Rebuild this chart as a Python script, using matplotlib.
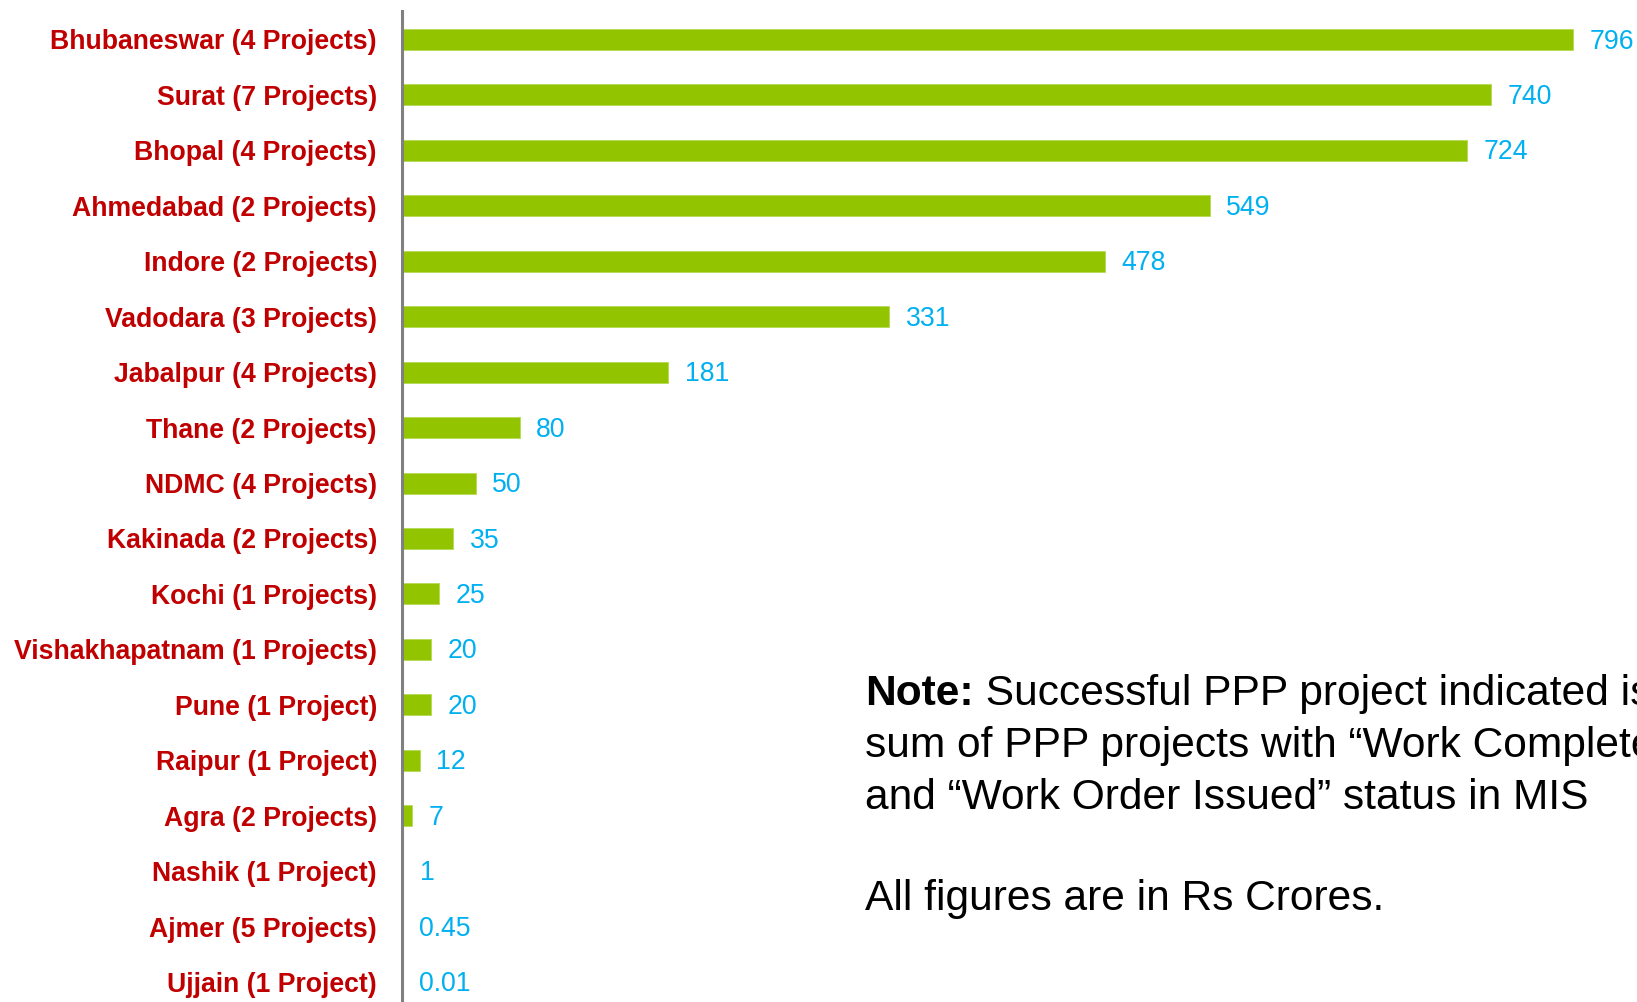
import matplotlib
matplotlib.use('Agg')
import matplotlib.pyplot as plt

plt.rcParams['font.family'] = ['Liberation Sans', 'DejaVu Sans']

cities = ['Bhubaneswar (4 Projects)', 'Surat (7 Projects)', 'Bhopal (4 Projects)',
          'Ahmedabad (2 Projects)', 'Indore (2 Projects)', 'Vadodara (3 Projects)',
          'Jabalpur (4 Projects)', 'Thane (2 Projects)', 'NDMC (4 Projects)',
          'Kakinada (2 Projects)', 'Kochi (1 Projects)', 'Vishakhapatnam (1 Projects)',
          'Pune (1 Project)', 'Raipur (1 Project)', 'Agra (2 Projects)',
          'Nashik (1 Project)', 'Ajmer (5 Projects)', 'Ujjain (1 Project)']
values = [796, 740, 724, 549, 478, 331, 181, 80, 50, 35, 25, 20, 20, 12, 7, 1, 0.45, 0.01]
value_labels = ['796', '740', '724', '549', '478', '331', '181', '80', '50', '35', '25',
                '20', '20', '12', '7', '1', '0.45', '0.01']

bar_color = '#92C500'
label_red = '#C00000'
value_blue = '#00B0F0'

W, H = 1637, 1002
fig = plt.figure(figsize=(W / 100, H / 100), dpi=100)
ax = fig.add_axes([402 / W, 0, 1 - 402 / W, 991 / H])

pos = list(range(len(cities)))
ax.barh(pos, values, height=0.38, color=bar_color, edgecolor='#B5D955', linewidth=0.6)

for p, v, lab in zip(pos, values, value_labels):
    ax.annotate(lab, xy=(v, p), xytext=(12, -1.5), textcoords='offset points',
                va='center', ha='left', fontsize=19.2, color=value_blue)

ax.set_xlim(0, 839.5)
ax.set_ylim(17.36, -0.514)
ax.set_yticks(pos)
ax.set_yticklabels(cities, fontsize=19.2, fontweight='bold', color=label_red)
ax.tick_params(axis='y', length=0, pad=18)
ax.set_xticks([])
for s in ['top', 'right', 'bottom']:
    ax.spines[s].set_visible(False)
ax.spines['left'].set_color('#808080')
ax.spines['left'].set_linewidth(2.2)

# note on the right (cut off at the right edge, as in the source slide)
note_x = 865 / W
fs = 30.6
t1 = fig.text(note_x, 1 - 694 / H, 'Note:', fontsize=fs, fontweight='bold', va='center')
ax.annotate(' Successful PPP project indicated is', xy=(1, 0.5), xycoords=t1,
            va='center', ha='left', fontsize=fs, annotation_clip=False)
fig.text(note_x, 1 - 746 / H, 'sum of PPP projects with \u201cWork Completed\u201d',
         fontsize=fs, va='center')
fig.text(note_x, 1 - 798 / H, 'and \u201cWork Order Issued\u201d status in MIS',
         fontsize=fs, va='center')
fig.text(note_x, 1 - 899 / H, 'All figures are in Rs Crores.', fontsize=fs, va='center')

fig.savefig('out.png', dpi=100)
